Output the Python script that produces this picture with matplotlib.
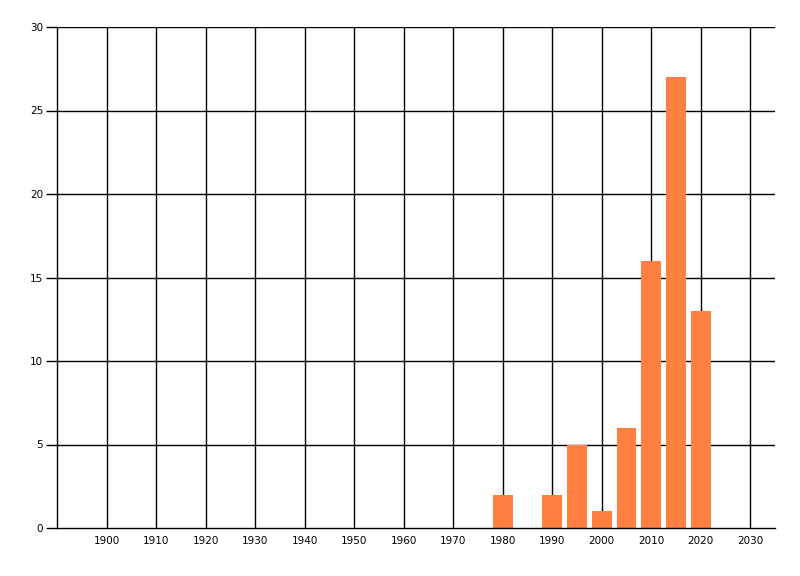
import matplotlib
matplotlib.use("Agg")
import matplotlib.pyplot as plt
import numpy as np

years = [1980, 1990, 1995, 2000, 2005, 2010, 2015, 2020]
counts = [2, 2, 5, 1, 6, 16, 27, 13]
xticks = list(range(1900, 2031, 10))
yticks = [0, 5, 10, 15, 20, 25, 30]

plt.rcParams['font.family'] = ['DejaVu Sans']

fig = plt.figure(figsize=(8, 5.76), dpi=100)
ax = fig.add_axes([57 / 800, 1 - 528 / 576, (775 - 57) / 800, (528 - 27) / 576])

# grid first, bars on top
for x in xticks:
    ax.axvline(x, color='black', lw=1, zorder=1)
for y in yticks[1:]:
    ax.axhline(y, color='black', lw=1, zorder=1)

ax.bar(years, counts, width=4, color='#FF8040', zorder=2)

ax.set_xlim(1890, 2035)
ax.set_ylim(0, 30)
ax.set_xticks(xticks)
ax.set_yticks(yticks)
ax.tick_params(axis='x', length=0, labelsize=7.5, pad=6)
ax.tick_params(axis='y', length=8, width=1, labelsize=7.5, pad=2)

for s in ['top', 'right']:
    ax.spines[s].set_visible(False)
ax.spines['left'].set_linewidth(1)
ax.spines['bottom'].set_linewidth(1)

fig.savefig('out.png', dpi=100)
